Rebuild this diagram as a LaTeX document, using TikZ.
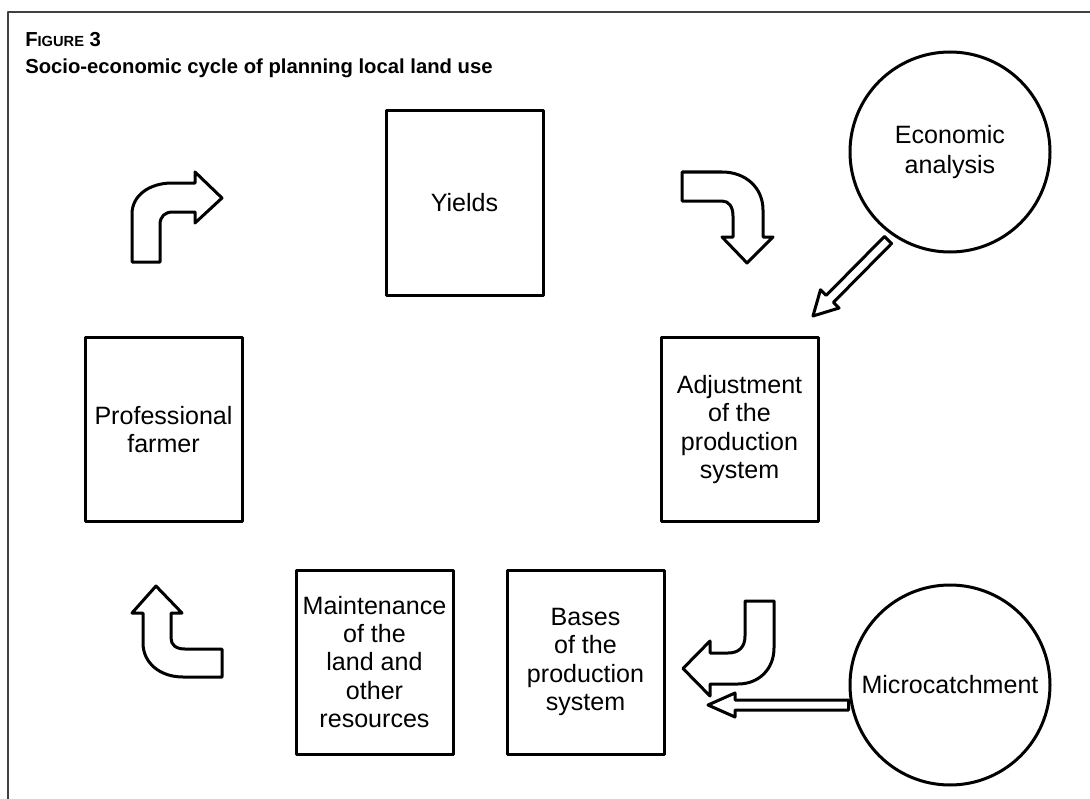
\documentclass[tikz,border=0pt]{standalone}
\usepackage{fontspec}
\setmainfont{Liberation Sans}
\begin{document}
\begin{tikzpicture}[x=0.75pt,y=-0.75pt,line join=round,
  box/.style={draw,line width=2.25pt,align=center,inner sep=0pt,
    font=\fontsize{18.8}{21.2}\selectfont,
    minimum width=0.75pt*157,minimum height=0.75pt*184},
  circ/.style={draw,circle,line width=2.25pt,align=center,inner sep=0pt,
    font=\fontsize{18.8}{22.5}\selectfont,minimum size=0.75pt*200},
  shapearrow/.style={draw,line width=2.25pt,fill=white},
  titlefont/.style={font=\fontsize{15.2}{18}\bfseries\selectfont}]
\useasboundingbox (0,0) rectangle (1090,799);
\draw[line width=1.5pt,black!75] (8,820) -- (8,12) -- (1100,12);
\node[anchor=base west,titlefont,inner sep=0pt] (fig) at (25,47)
  {F{\fontsize{11}{12}\bfseries\selectfont IGURE} 3};
\node[anchor=base west,titlefont,inner sep=0pt] (title) at (25,74)
  {Socio-economic cycle of planning local land use};
% boxes
\node[box] (yields) at (464.5,203) {Yields};
\node[box] (adjust) at (739.5,429.5) {Adjustment\\of the\\production\\system};
\node[box] (farmer) at (163.5,429.5) {Professional\\farmer};
\node[box] (maint) at (374.5,662) {Maintenance\\of the\\land and\\other\\resources};
\node[box] (bases) at (585.5,662) {Bases\\of the\\production\\system};
% circles
\node[circ] (econ) at (950,152) {Economic\\analysis};
\node[circ] (micro) at (950,685) {Microcatchment};
% curved arrows
\draw[shapearrow] (132,262) -- (132,214) .. controls (132,195) and (150,183) .. (172,183)
  -- (195,183) -- (195,172) -- (222,198) -- (195,223) -- (195,212) -- (173,212)
  .. controls (165,212) and (160,216) .. (160,225) -- (160,262) -- cycle;
\draw[shapearrow] (682,172) -- (722,172) .. controls (746,172) and (763,188) .. (763,210)
  -- (763,237) -- (773,237) -- (747,263) -- (722,237) -- (733,237) -- (733,216)
  .. controls (733,207) and (729,201) .. (722,201) -- (682,201) -- cycle;
\draw[shapearrow] (774,601) -- (774,648) .. controls (774,669) and (759,684) .. (738,684)
  -- (710,684) -- (710,696) -- (683,668.5) -- (710,641) -- (710,653) -- (728,653)
  .. controls (739,653) and (745,647) .. (745,636) -- (745,601) -- cycle;
\draw[shapearrow] (156,586) -- (182,613) -- (171,613) -- (171,638)
  .. controls (171,645) and (176,649) .. (185,649) -- (222,649) -- (222,677) -- (183,677)
  .. controls (160,677) and (143,663) .. (143,643) -- (143,613) -- (132,613) -- cycle;
% hollow straight arrows
\draw[shapearrow] (891.6,243.5) -- (833.4,302.4) -- (839.1,308.0) -- (813,316)
  -- (820.5,289.8) -- (826.2,295.4) -- (884.4,236.5) -- cycle;
\draw[shapearrow] (micro.west |- 0,700) -- (735,700) -- (735,693) -- (708,705)
  -- (735,717) -- (735,710) -- (micro.west |- 0,710) -- cycle;
\end{tikzpicture}
\end{document}
